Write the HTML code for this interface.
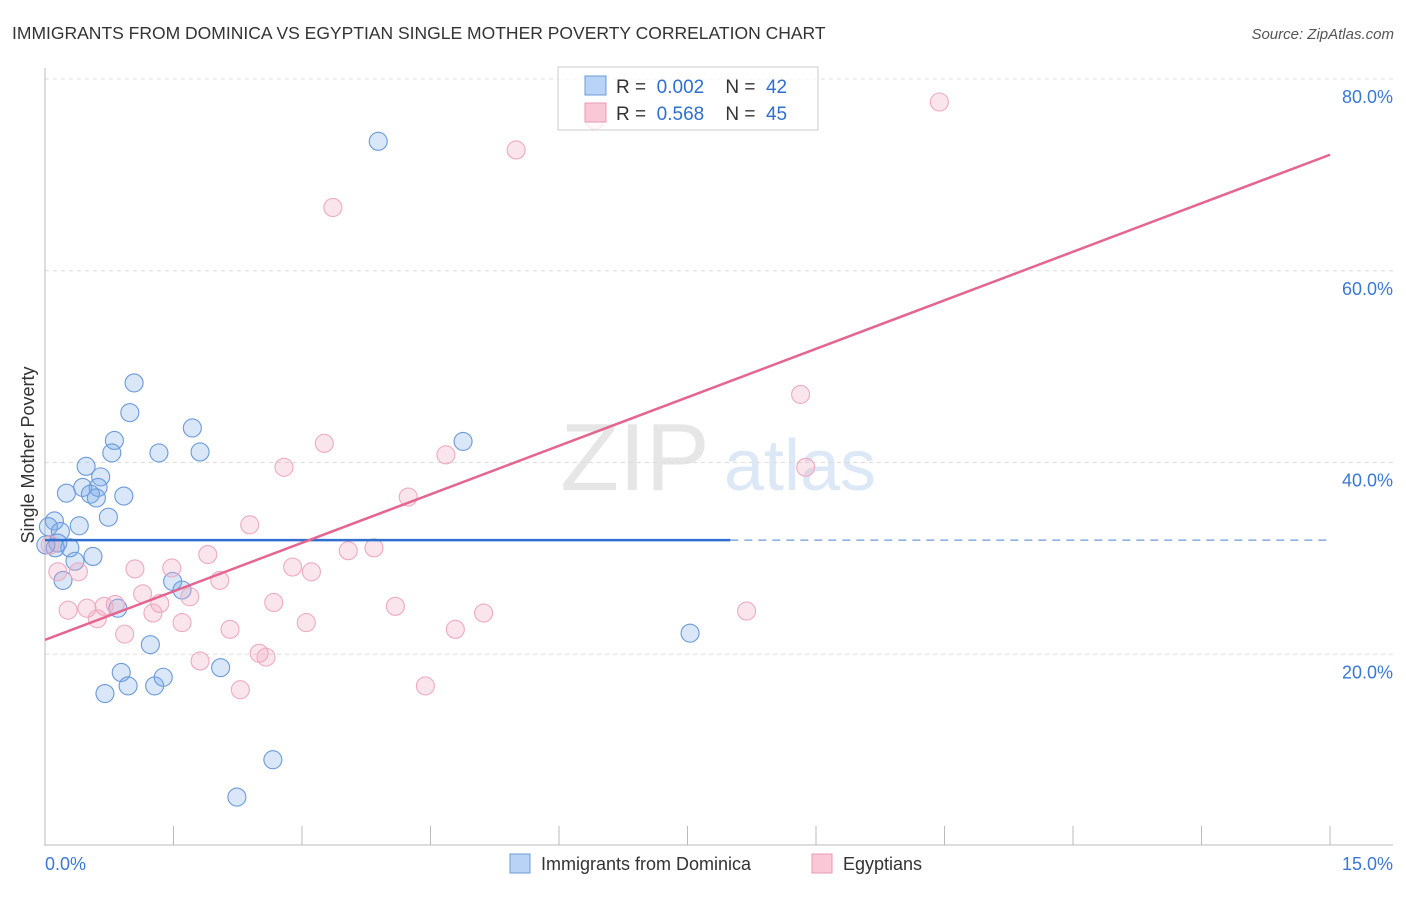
<!DOCTYPE html>
<html><head><meta charset="utf-8"><style>
body{margin:0;background:#fff;font-family:"Liberation Sans",sans-serif;}
svg text{font-family:"Liberation Sans",sans-serif;}
</style></head><body>
<svg id="c" width="1406" height="892" xmlns="http://www.w3.org/2000/svg">
<text x="12" y="39" font-size="17.5" fill="#333">IMMIGRANTS FROM DOMINICA VS EGYPTIAN SINGLE MOTHER POVERTY CORRELATION CHART</text>
<text x="1394" y="39" font-size="15" fill="#555" font-style="italic" text-anchor="end">Source: ZipAtlas.com</text>
<text x="34" y="455" font-size="18" fill="#333" text-anchor="middle" transform="rotate(-90 34 455)">Single Mother Poverty</text>
<text x="635" y="490" font-size="96" fill="#e6e6e6" font-family="Liberation Serif" text-anchor="middle">ZIP</text>
<text x="800" y="490" font-size="72" fill="#dde8f6" text-anchor="middle">atlas</text>
<g id="grid"></g><g id="pts"></g><g id="lines"></g>
<rect x="558" y="67" width="260" height="63" fill="rgba(255,255,255,0.75)" stroke="#ccc"/>
<rect x="585" y="76" width="21" height="19" fill="#b8d3f5" stroke="#6b9ad8"/>
<rect x="585" y="103" width="21" height="19" fill="#f8c8d6" stroke="#e89ab4"/>
<text x="616" y="93" font-size="19" fill="#333" xml:space="preserve">R =  <tspan fill="#2f6fd0">0.002</tspan>    N =  <tspan fill="#2f6fd0">42</tspan></text>
<text x="616" y="120" font-size="19" fill="#333" xml:space="preserve">R =  <tspan fill="#2f6fd0">0.568</tspan>    N =  <tspan fill="#2f6fd0">45</tspan></text>
<text x="45" y="870" font-size="18" fill="#3a78d4">0.0%</text>
<text x="1393" y="870" font-size="18" fill="#3a78d4" text-anchor="end">15.0%</text>
<rect x="510" y="854" width="20" height="19" fill="#b8d3f5" stroke="#6b9ad8"/>
<text x="541" y="870" font-size="18" fill="#333">Immigrants from Dominica</text>
<rect x="812" y="854" width="20" height="19" fill="#f8c8d6" stroke="#e89ab4"/>
<text x="843" y="870" font-size="18" fill="#333">Egyptians</text>
</svg>
<script>
const yTicks=[20,40,60,80];
const yTickLabels=["20.0%","40.0%","60.0%","80.0%"];
const xTicks=[0,1.5,3,4.5,6,7.5,9,10.5,12,13.5,15];
const blueX=[3.89,1.04,0.99,1.72,0.81,4.88,0.78,1.33,1.81,0.48,0.65,0.25,0.44,0.62,0.53,0.60,0.92,0.74,0.11,0.04,0.18,0.40,0.15,0.29,0.12,0.35,0.56,0.21,1.49,1.60,0.85,1.23,7.53,0.89,0.97,1.28,1.38,2.05,0.70,2.66,2.24,0.01];
const blueY=[73.5,48.3,45.2,43.6,42.3,42.2,41.0,41.0,41.1,39.6,38.5,36.8,37.4,37.4,36.7,36.3,36.5,34.3,33.9,33.3,32.8,33.4,31.6,31.1,31.1,29.7,30.2,27.7,27.6,26.7,24.8,21.0,22.2,18.1,16.7,16.7,17.6,18.6,15.9,9.0,5.1,31.4];
const pinkX=[10.44,6.42,5.50,3.36,8.82,3.26,4.68,8.88,2.79,4.24,2.39,3.54,3.84,1.90,1.05,2.89,1.48,3.11,0.39,0.15,2.04,1.69,1.14,1.34,0.82,0.69,0.49,0.27,2.67,4.09,5.12,1.26,0.61,1.60,3.05,2.16,4.79,0.93,8.19,1.81,2.50,2.58,2.28,4.44,0.06];
const pinkY=[77.6,75.7,72.6,66.6,47.1,42.0,40.8,39.5,39.5,36.4,33.5,30.8,31.1,30.4,28.9,29.1,29.0,28.6,28.6,28.6,27.7,26.0,26.3,25.3,25.2,25.0,24.8,24.6,25.4,25.0,24.3,24.3,23.7,23.3,23.3,22.6,22.6,22.1,24.5,19.3,20.1,19.7,16.3,16.7,31.4];
const blueFit=[31.9,31.9];
const pinkFit=[21.5,72.1];
const blueSolidEnd=[8.0];
const NS="http://www.w3.org/2000/svg";
const sx=v=>45+v/15*1285;
const sy=v=>846-v/20*191.75;
function mk(t,a,p){const e=document.createElementNS(NS,t);for(const k in a)e.setAttribute(k,a[k]);document.getElementById(p).appendChild(e);return e;}
yTicks.forEach((t,i)=>{
 const l=mk('line',{x1:45,x2:1393,y1:sy(t),y2:sy(t),stroke:'#ddd','stroke-dasharray':'4,4'},'grid');
 
 
 const tx=mk('text',{x:1393,y:sy(t)+24,'font-size':18,fill:'#3a78d4','text-anchor':'end'},'grid');
 tx.textContent=yTickLabels[i];
 
 
});
let ax=mk('line',{x1:45,x2:45,y1:68,y2:846,stroke:'#bbb'},'grid');


let bx=mk('line',{x1:45,x2:1393,y1:845,y2:845,stroke:'#bbb'},'grid');


xTicks.forEach(t=>{
 const l=mk('line',{x1:sx(t),x2:sx(t),y1:826,y2:845,stroke:'#bbb'},'grid');
 
 
});
blueX.forEach((x,i)=>{
 const c=mk('circle',{cx:sx(x),cy:sy(blueY[i]),r:9,fill:'rgba(120,170,235,0.28)',stroke:'#6a9ad9','stroke-width':1.1},'pts');
 
 
});
pinkX.forEach((x,i)=>{
 const c=mk('circle',{cx:sx(x),cy:sy(pinkY[i]),r:9,fill:'rgba(242,160,188,0.28)',stroke:'#eeaac0','stroke-width':1.1},'pts');
 
 
});
const bmax=blueSolidEnd[0];
const by=x=>blueFit[0]+(blueFit[1]-blueFit[0])*x/15;
let b1=mk('line',{x1:sx(0),y1:sy(by(0)),x2:sx(bmax),y2:sy(by(bmax)),stroke:'#2f6fd0','stroke-width':2.5},'lines');


let b2=mk('line',{x1:sx(bmax),y1:sy(by(bmax)),x2:sx(15),y2:sy(by(15)),stroke:'#6b9ad8','stroke-width':1.2,'stroke-dasharray':'8,6'},'lines');


let p1=mk('line',{x1:sx(0),y1:sy(pinkFit[0]),x2:sx(15),y2:sy(pinkFit[1]),stroke:'#e36590','stroke-width':2.5},'lines');


</script>
</body></html>
